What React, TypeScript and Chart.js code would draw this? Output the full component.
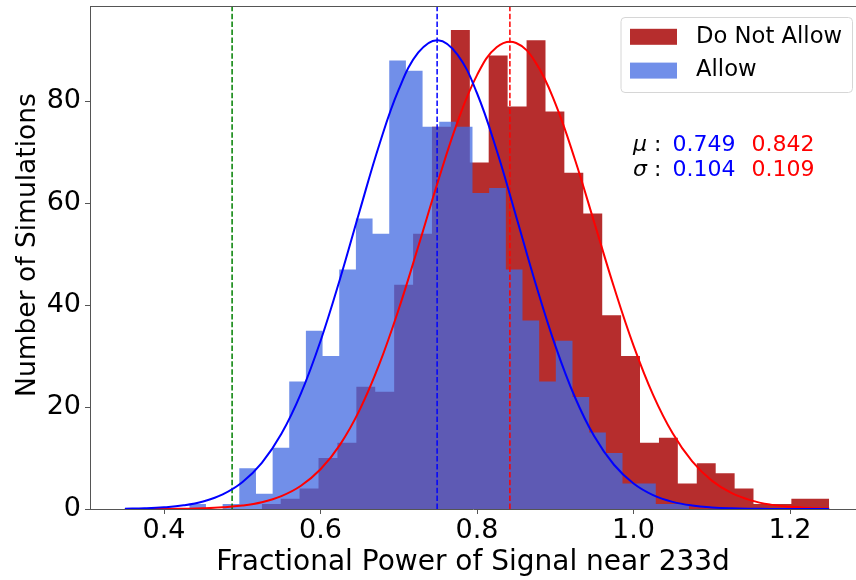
import React, { useEffect, useRef } from 'react';
import { Chart, registerables } from 'chart.js';

Chart.register(...registerables);

// ---------- data ----------
const allowEdges = [
  0.4323, 0.4536, 0.4749, 0.4962, 0.5175, 0.5388, 0.5600, 0.5813, 0.6026, 0.6239,
  0.6452, 0.6665, 0.6878, 0.7091, 0.7304, 0.7517, 0.7730, 0.7942, 0.8155, 0.8368,
  0.8581, 0.8794, 0.9007, 0.9220, 0.9433, 0.9646, 0.9859, 1.0072, 1.0284, 1.0497,
  1.0710,
];
const allowCounts = [
  1, 0, 1, 8, 3, 12, 25, 35, 30, 47,
  57, 54, 88, 86, 75, 76, 75, 62, 63, 47,
  37, 25, 33, 22, 15, 11, 5, 5, 1, 1,
];
const notAllowEdges = [
  0.5249, 0.5491, 0.5732, 0.5974, 0.6216, 0.6458, 0.6699, 0.6941, 0.7183, 0.7424,
  0.7666, 0.7908, 0.8149, 0.8391, 0.8633, 0.8875, 0.9116, 0.9358, 0.9600, 0.9841,
  1.0083, 1.0325, 1.0566, 1.0808, 1.1050, 1.1292, 1.1533, 1.1775, 1.2017, 1.2258,
  1.2500,
];
const notAllowCounts = [
  1, 2, 4, 10, 13, 24, 23, 44, 54, 75,
  94, 68, 89, 79, 92, 78, 66, 58, 38, 30,
  13, 14, 5, 9, 7, 4, 1, 1, 2, 2,
];

const curveX = [
  0.35, 0.375, 0.4, 0.425, 0.45, 0.475, 0.5, 0.525, 0.55, 0.575,
  0.6, 0.625, 0.65, 0.675, 0.7, 0.725, 0.75, 0.775, 0.8, 0.825,
  0.85, 0.875, 0.9, 0.925, 0.95, 0.975, 1.0, 1.025, 1.05, 1.075,
  1.1, 1.125, 1.15, 1.175, 1.2, 1.225, 1.25,
];
const allowCurve = [
  0.06, 0.14, 0.33, 0.72, 1.48, 2.86, 5.24, 9.05, 14.75, 22.69,
  32.97, 45.19, 58.48, 71.43, 82.33, 89.58, 92.0, 89.17, 81.58, 70.44,
  57.41, 44.16, 32.07, 21.98, 14.21, 8.68, 5.0, 2.72, 1.4, 0.68,
  0.31, 0.13, 0.05, 0.02, 0.01, 0.0, 0.0,
];
const notAllowCurve = [
  0.0, 0.01, 0.02, 0.06, 0.14, 0.32, 0.67, 1.34, 2.54, 4.57,
  7.8, 12.64, 19.44, 28.36, 39.25, 51.55, 64.22, 75.91, 85.14, 90.59,
  91.45, 87.59, 79.59, 68.62, 56.13, 43.56, 32.07, 22.4, 14.85, 9.33,
  5.57, 3.15, 1.69, 0.86, 0.42, 0.19, 0.08,
];

const allowMu = 0.749;
const notAllowMu = 0.842;
const allowSigma = 0.104;
const notAllowSigma = 0.109;
const thresholdX = 0.487;

const xTicks = [0.4, 0.6, 0.8, 1.0, 1.2];
const xTickLabels = ['0.4', '0.6', '0.8', '1.0', '1.2'];
const yTicks = [0, 20, 40, 60, 80];
const yTickLabels = ['0', '20', '40', '60', '80'];
const yTitle = 'Number of Simulations';
const xTitle = 'Fractional Power of Signal near 233d';

const X_MIN = 0.3054;
const X_MAX = 1.2843;
const Y_MIN = 0;
const Y_MAX = 98.7;

const FONT = "'DejaVu Sans', 'Noto Sans', sans-serif";
const BLUE_FILL = 'rgba(65,105,225,0.75)';
const RED_FILL = 'rgba(178,34,34,0.95)';

// ---------- helpers ----------
const histPoints = (edges: number[], counts: number[]) => {
  const pts = counts.map((c, i) => ({ x: edges[i], y: c }));
  pts.push({ x: edges[edges.length - 1], y: counts[counts.length - 1] });
  return pts;
};
const curvePoints = (ys: number[]) => curveX.map((x, i) => ({ x, y: ys[i] }));
const vlinePoints = (x: number) => [
  { x, y: Y_MIN },
  { x, y: Y_MAX },
];

const overlayPlugin = {
  id: 'overlay',
  afterDraw(chart: any) {
    const { ctx, chartArea } = chart;
    ctx.save();
    // top spine
    ctx.strokeStyle = '#555';
    ctx.lineWidth = 1;
    ctx.beginPath();
    ctx.moveTo(chartArea.left, chartArea.top + 0.5);
    ctx.lineTo(chartArea.right, chartArea.top + 0.5);
    ctx.stroke();

    // y axis title
    ctx.save();
    ctx.translate(28, 245);
    ctx.rotate(-Math.PI / 2);
    ctx.font = `26.5px ${FONT}`;
    ctx.fillStyle = '#000';
    ctx.textAlign = 'center';
    ctx.textBaseline = 'middle';
    ctx.fillText(yTitle, 0, 0);
    ctx.restore();

    // legend
    const lx = 621, ly = 17.5, lw = 231.5, lh = 75, r = 4;
    ctx.beginPath();
    ctx.moveTo(lx + r, ly);
    ctx.lineTo(lx + lw - r, ly);
    ctx.quadraticCurveTo(lx + lw, ly, lx + lw, ly + r);
    ctx.lineTo(lx + lw, ly + lh - r);
    ctx.quadraticCurveTo(lx + lw, ly + lh, lx + lw - r, ly + lh);
    ctx.lineTo(lx + r, ly + lh);
    ctx.quadraticCurveTo(lx, ly + lh, lx, ly + lh - r);
    ctx.lineTo(lx, ly + r);
    ctx.quadraticCurveTo(lx, ly, lx + r, ly);
    ctx.closePath();
    ctx.fillStyle = 'rgba(255,255,255,0.8)';
    ctx.fill();
    ctx.strokeStyle = '#d6d6d6';
    ctx.lineWidth = 1;
    ctx.stroke();

    const entries = [
      { label: 'Do Not Allow', color: RED_FILL, y: 36.8 },
      { label: 'Allow', color: BLUE_FILL, y: 70.6 },
    ];
    ctx.font = `22.7px ${FONT}`;
    ctx.textBaseline = 'middle';
    ctx.textAlign = 'left';
    entries.forEach((e) => {
      ctx.fillStyle = e.color;
      ctx.fillRect(630, e.y - 8, 47, 16);
      ctx.fillStyle = '#000';
      ctx.fillText(e.label, 696, e.y);
    });

    // statistics text
    const rows = [
      { sym: 'μ', a: allowMu, b: notAllowMu, y: 144.8 },
      { sym: 'σ', a: allowSigma, b: notAllowSigma, y: 169.8 },
    ];
    rows.forEach((row) => {
      ctx.fillStyle = '#000';
      ctx.font = `italic 22px ${FONT}`;
      ctx.fillText(row.sym, 633, row.y);
      ctx.font = `22px ${FONT}`;
      ctx.fillText(':', 654, row.y);
      ctx.fillStyle = '#0000ff';
      ctx.fillText(row.a.toFixed(3), 672.5, row.y);
      ctx.fillStyle = '#ff0000';
      ctx.fillText(row.b.toFixed(3), 751.5, row.y);
    });
    ctx.restore();
  },
};

export default function App() {
  const ref = useRef<HTMLCanvasElement>(null);

  useEffect(() => {
    const canvas = ref.current;
    if (!canvas) return;
    const dash = [5.5, 2.4];
    const chart = new Chart(canvas, {
      type: 'line',
      data: {
        datasets: [
          {
            label: 'Allow fit',
            data: curvePoints(allowCurve),
            borderColor: '#0000ff',
            borderWidth: 2,
            pointRadius: 0,
            tension: 0.4,
            fill: false,
            order: 0,
          },
          {
            label: 'Do Not Allow fit',
            data: curvePoints(notAllowCurve),
            borderColor: '#ff0000',
            borderWidth: 2,
            pointRadius: 0,
            tension: 0.4,
            fill: false,
            order: 0,
          },
          {
            label: 'threshold',
            data: vlinePoints(thresholdX),
            borderColor: '#008000',
            borderWidth: 1.5,
            borderDash: dash,
            pointRadius: 0,
            fill: false,
            order: 1,
          },
          {
            label: 'Allow mean',
            data: vlinePoints(allowMu),
            borderColor: '#0000ff',
            borderWidth: 1.5,
            borderDash: dash,
            pointRadius: 0,
            fill: false,
            order: 1,
          },
          {
            label: 'Do Not Allow mean',
            data: vlinePoints(notAllowMu),
            borderColor: '#ff0000',
            borderWidth: 1.5,
            borderDash: dash,
            pointRadius: 0,
            fill: false,
            order: 1,
          },
          {
            label: 'Allow',
            data: histPoints(allowEdges, allowCounts),
            stepped: 'before',
            fill: 'origin',
            backgroundColor: BLUE_FILL,
            borderColor: 'rgba(0,0,0,0)',
            borderWidth: 0,
            pointRadius: 0,
            order: 2,
          },
          {
            label: 'Do Not Allow',
            data: histPoints(notAllowEdges, notAllowCounts),
            stepped: 'before',
            fill: 'origin',
            backgroundColor: RED_FILL,
            borderColor: 'rgba(0,0,0,0)',
            borderWidth: 0,
            pointRadius: 0,
            order: 3,
          },
        ] as any,
      },
      options: {
        responsive: false,
        animation: false,
        devicePixelRatio: 1,
        events: [],
        layout: { padding: { top: 6, left: 0, right: 0, bottom: 0 } },
        plugins: {
          legend: { display: false },
          tooltip: { enabled: false },
        },
        scales: {
          x: {
            type: 'linear',
            min: X_MIN,
            max: X_MAX,
            afterBuildTicks: (s: any) => {
              s.ticks = xTicks.map((v) => ({ value: v }));
            },
            afterFit: (s: any) => {
              s.height = 71;
              s.paddingLeft = 0;
              s.paddingRight = 0;
              s.paddingTop = 0;
              s.paddingBottom = 0;
            },
            ticks: {
              callback: (_v: any, i: number) => xTickLabels[i],
              font: { family: FONT, size: 27, lineHeight: 1 },
              color: '#000',
              padding: 3,
              maxRotation: 0,
              autoSkip: false,
            },
            grid: { drawOnChartArea: false, drawTicks: true, tickLength: 5, color: '#555', lineWidth: 1 },
            border: { display: true, color: '#555', width: 1 },
            title: {
              display: true,
              text: xTitle,
              font: { family: FONT, size: 28, lineHeight: 1 },
              color: '#000',
              padding: { top: 0, bottom: 3 },
            },
          },
          y: {
            type: 'linear',
            min: Y_MIN,
            max: Y_MAX,
            afterBuildTicks: (s: any) => {
              s.ticks = yTicks.map((v) => ({ value: v }));
            },
            afterFit: (s: any) => {
              s.width = 90;
              s.paddingLeft = 0;
              s.paddingRight = 0;
              s.paddingTop = 0;
              s.paddingBottom = 0;
            },
            ticks: {
              callback: (_v: any, i: number) => yTickLabels[i],
              font: { family: FONT, size: 27, lineHeight: 1 },
              color: '#000',
              padding: 4,
            },
            grid: { drawOnChartArea: false, drawTicks: true, tickLength: 5, color: '#555', lineWidth: 1 },
            border: { display: true, color: '#555', width: 1 },
            title: { display: false },
          },
        },
      } as any,
      plugins: [overlayPlugin],
    });
    return () => chart.destroy();
  }, []);

  return (
    <div style={{ position: 'absolute', left: 0, top: 0, width: 856, height: 580, background: '#fff' }}>
      <canvas ref={ref} width={856} height={580} style={{ width: 856, height: 580, display: 'block' }} />
    </div>
  );
}
